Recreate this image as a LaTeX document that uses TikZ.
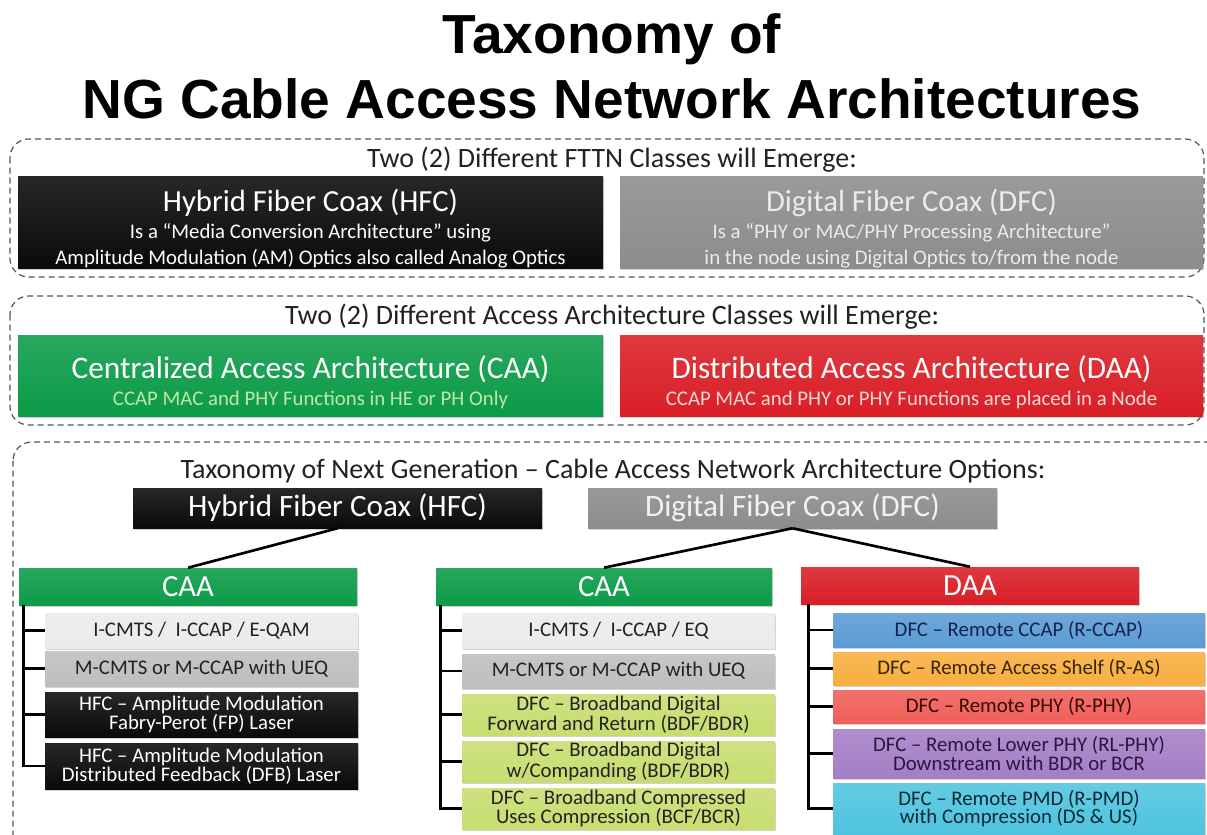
\documentclass[tikz,border=0pt]{standalone}
\usepackage{fontspec}
\setmainfont{Carlito}
\newfontfamily\titlefont{Liberation Sans}
\usetikzlibrary{shadows}
\definecolor{boxblack}{HTML}{0A0A0A}
\definecolor{dfcgray}{HTML}{8C8C8C}
\definecolor{caagreen}{HTML}{0B9B48}
\definecolor{daared}{HTML}{DA1E26}
\definecolor{itemlight}{HTML}{EBEBEB}
\definecolor{itemgray}{HTML}{BEBEBE}
\definecolor{itemgreen}{HTML}{C8DD70}
\definecolor{itemblue}{HTML}{5B9BD5}
\definecolor{itemorange}{HTML}{F8AE40}
\definecolor{itemred}{HTML}{EF5F58}
\definecolor{itempurple}{HTML}{A57EC6}
\definecolor{itemcyan}{HTML}{4FC4DF}
\definecolor{dashgray}{HTML}{555555}
\definecolor{txtdark}{HTML}{222222}
\definecolor{caasub}{HTML}{BDE8A8}
\definecolor{daasub}{HTML}{F9D6D6}
\definecolor{tblue}{HTML}{13234A}
\definecolor{torange}{HTML}{3A2600}
\definecolor{tred}{HTML}{3A0808}
\definecolor{tpurple}{HTML}{2A1740}
\definecolor{tcyan}{HTML}{0B2A35}
\begin{document}
\begin{tikzpicture}[x=0.75pt,y=-0.75pt,
  bx/.style={draw=none, top color=#1!88!white, bottom color=#1, inner sep=0pt, align=center,
    drop shadow={shadow xshift=0.8pt, shadow yshift=-1.2pt, opacity=0.35}},
  dashbox/.style={draw=dashgray, line width=0.9pt, dash pattern=on 4.5pt off 3pt, rounded corners=14pt},
  heading/.style={font=\fontsize{21pt}{24pt}\selectfont, text=txtdark, inner sep=0pt},
  bigtitle/.style={font=\fontsize{15.6pt}{20pt}\selectfont},
  item/.style={bx=#1, minimum width=313*0.75pt, font=\fontsize{15.6pt}{14pt}\selectfont, text=txtdark},
  ritem/.style={bx=#1, minimum width=372*0.75pt, font=\fontsize{15.6pt}{14pt}\selectfont},
  tree/.style={line width=2.2pt, black},
  conn/.style={line width=2pt, black}]
\useasboundingbox (0,0) rectangle (1207,835);
\clip (0,0) rectangle (1207,835);
\fill[white] (0,0) rectangle (1207,835);

% Title
\node[font=\titlefont\bfseries\fontsize{41.3pt}{49pt}\selectfont, align=center, inner sep=0pt] (title) at (612,66)
  {Taxonomy of\\NG Cable Access Network Architectures};

% Section 1
\draw[dashbox] (10,139) rectangle (1204,277);
\node[heading] (h1) at (612,160) {Two (2) Different FTTN Classes will Emerge:};
\node[bx=boxblack, minimum width=585*0.75pt, minimum height=91*0.75pt, text=white, bigtitle] (hfcTop) at (310.5,222.5)
  {\rule{0pt}{26pt}{\fontsize{23pt}{20pt}\selectfont Hybrid Fiber Coax (HFC)}\\Is a ``Media Conversion Architecture'' using\\Amplitude Modulation (AM) Optics also called Analog Optics};
\node[bx=dfcgray, minimum width=583*0.75pt, minimum height=91*0.75pt, text=white!92!black, bigtitle] (dfcTop) at (911.5,222.5)
  {\rule{0pt}{26pt}{\fontsize{23pt}{20pt}\selectfont Digital Fiber Coax (DFC)}\\Is a “PHY or MAC/PHY Processing Architecture”\\in the node using Digital Optics to/from the node};

% Section 2
\draw[dashbox] (10,296) rectangle (1204,425);
\node[heading] (h2) at (612,317) {Two (2) Different Access Architecture Classes will Emerge:};
\node[bx=caagreen, minimum width=585*0.75pt, minimum height=81*0.75pt, text=white, bigtitle] (caaTop) at (310.5,375.5)
  {\rule{0pt}{27pt}{\fontsize{23.5pt}{20pt}\selectfont Centralized Access Architecture (CAA)}\\\textcolor{caasub}{CCAP MAC and PHY Functions in HE or PH Only}};
\node[bx=daared, minimum width=583*0.75pt, minimum height=81*0.75pt, text=white, bigtitle] (daaTop) at (911.5,375.5)
  {\rule{0pt}{27pt}{\fontsize{23.5pt}{20pt}\selectfont Distributed Access Architecture (DAA)}\\\textcolor{daasub}{CCAP MAC and PHY or PHY Functions are placed in a Node}};

% Section 3
\draw[dashbox] (13,442) rectangle (1240,900);
\node[heading] (h3) at (613,471) {Taxonomy of Next Generation – Cable Access Network Architecture Options:};
\node[bx=boxblack, minimum width=409*0.75pt, minimum height=40*0.75pt, text=white, font=\fontsize{23.3pt}{24pt}\selectfont] (hfcH) at (337.5,508) {Hybrid Fiber Coax (HFC)};
\node[bx=dfcgray, minimum width=409*0.75pt, minimum height=40*0.75pt, text=white!95!black, font=\fontsize{23.3pt}{24pt}\selectfont] (dfcH) at (792.5,508) {Digital Fiber Coax (DFC)};

\node[bx=caagreen, minimum width=338*0.75pt, minimum height=37*0.75pt, text=white, font=\fontsize{23pt}{24pt}\selectfont] (caa1) at (188,586.5) {CAA};
\node[bx=caagreen, minimum width=336*0.75pt, minimum height=37*0.75pt, text=white, font=\fontsize{23pt}{24pt}\selectfont] (caa2) at (604,586.5) {CAA};
\node[bx=daared, minimum width=338*0.75pt, minimum height=37*0.75pt, text=white, font=\fontsize{23pt}{24pt}\selectfont] (daa) at (970,585.5) {DAA};

\draw[conn] (hfcH.south) -- (caa1.north);
\draw[conn] (dfcH.south) -- (caa2.north);
\draw[conn] (dfcH.south) -- (daa.north);

% Left column
\node[item=itemlight, minimum height=35*0.75pt] (l1) at (201.5,630.5) {I-CMTS /\ \ I-CCAP / E-QAM};
\node[item=itemgray, minimum height=35*0.75pt] (l2) at (201.5,668.5) {M-CMTS or M-CCAP with UEQ};
\node[item=boxblack, minimum height=45*0.75pt, text=white] (l3) at (201.5,714.5) {HFC – Amplitude Modulation\\Fabry-Perot (FP) Laser};
\node[item=boxblack, minimum height=46*0.75pt, text=white] (l4) at (201.5,766) {HFC – Amplitude Modulation\\Distributed Feedback (DFB) Laser};
\coordinate (tA) at ([xshift=3.75pt]caa1.south west);
\draw[tree] (tA) |- (l4.west);
\foreach \n in {l1,l2,l3} \draw[tree] (tA |- \n.west) -- (\n.west);

% Middle column
\node[item=itemlight, minimum height=35*0.75pt] (m1) at (618.5,630.5) {I-CMTS /\ \ I-CCAP / EQ};
\node[item=itemgray, minimum height=34*0.75pt] (m2) at (618.5,671) {M-CMTS or M-CCAP with UEQ};
\node[item=itemgreen, minimum height=41*0.75pt] (m3) at (618.5,714.5) {DFC – Broadband Digital\\Forward and Return (BDF/BDR)};
\node[item=itemgreen, minimum height=41*0.75pt] (m4) at (618.5,761.5) {DFC – Broadband Digital\\w/Companding (BDF/BDR)};
\node[item=itemgreen, minimum height=41*0.75pt] (m5) at (618.5,808.5) {DFC – Broadband Compressed\\Uses Compression (BCF/BCR)};
\coordinate (tB) at ([xshift=3.75pt]caa2.south west);
\draw[tree] (tB) |- (m5.west);
\foreach \n in {m1,m2,m3,m4} \draw[tree] (tB |- \n.west) -- (\n.west);

% Right column
\node[ritem=itemblue, minimum height=34*0.75pt, text=tblue] (r1) at (1019,630) {DFC – Remote CCAP (R-CCAP)};
\node[ritem=itemorange, minimum height=33*0.75pt, text=torange] (r2) at (1019,668.5) {DFC – Remote Access Shelf (R-AS)};
\node[ritem=itemred, minimum height=33*0.75pt, text=tred] (r3) at (1019,706.5) {DFC – Remote PHY (R-PHY)};
\node[ritem=itempurple, minimum height=49*0.75pt, text=tpurple] (r4) at (1019,753.5) {DFC – Remote Lower PHY (RL-PHY)\\Downstream with BDR or BCR};
\node[ritem=itemcyan, minimum height=51*0.75pt, text=tcyan] (r5) at (1019,808.5) {DFC – Remote PMD (R-PMD)\\with Compression (DS \& US)};
\coordinate (tC) at ([xshift=6pt]daa.south west);
\draw[tree] (tC) |- (r5.west);
\foreach \n in {r1,r2,r3,r4} \draw[tree] (tC |- \n.west) -- (\n.west);
\end{tikzpicture}
\end{document}
